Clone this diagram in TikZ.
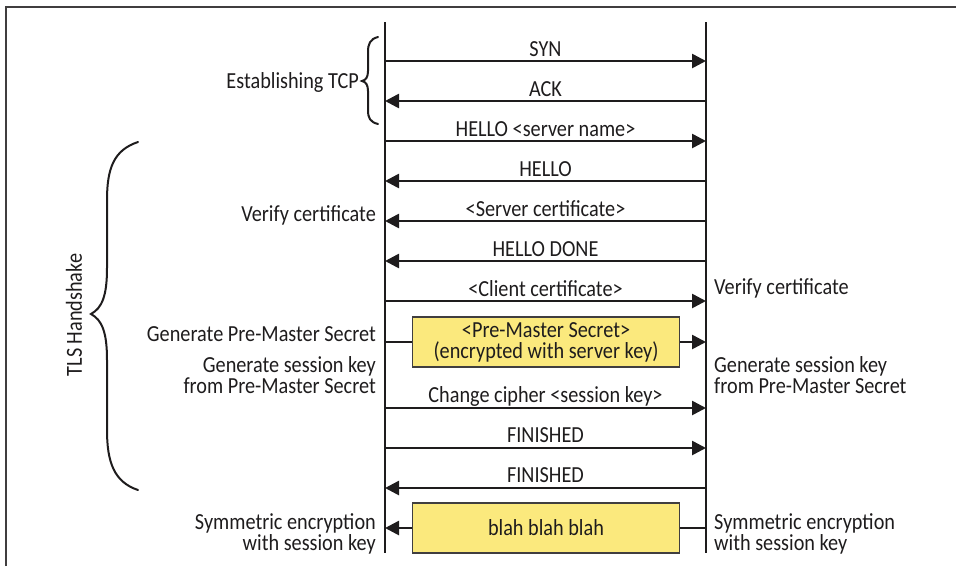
\documentclass[tikz,border=0pt]{standalone}
\usepackage{fontspec}
\setmainfont{Carlito}[FakeStretch=0.88]
\usetikzlibrary{arrows.meta}
\definecolor{boxyellow}{RGB}{251,233,125}
\definecolor{ink}{RGB}{30,28,29}
\begin{document}
\begin{tikzpicture}[x=1pt,y=-1pt,
  every node/.style={font=\fontsize{23}{21}\selectfont, text=ink, inner sep=0pt},
  life/.style={line width=2.6pt, draw=ink},
  msg/.style={line width=2.6pt, draw=ink, -{Triangle[length=14pt,width=14pt]}},
  plainline/.style={line width=2.6pt, draw=ink},
  yellowbox/.style={draw=ink!85, line width=1.3pt, fill=boxyellow, minimum width=267pt, minimum height=50pt, align=center},
  bracestyle/.style={line width=2pt, draw=ink, line cap=round},
  framestyle/.style={line width=1.6pt, draw=ink!85}]
\useasboundingbox (0,0) rectangle (956,566);
% frame
\draw[framestyle] (6,566) -- (6,7) -- (956,7);
% lifelines
\coordinate (Ltop) at (385,22);
\coordinate (Lbot) at (385,553);
\coordinate (Rtop) at (706,22);
\coordinate (Rbot) at (706,553);
\draw[life] (Ltop) -- (Lbot);
\draw[life] (Rtop) -- (Rbot);
% rows
\foreach \i/\y in {1/61,2/101,3/141,4/181,5/221,6/261,7/301,8/342,9/408,10/448,11/488,12/528}{
  \coordinate (L\i) at (385,\y);
  \coordinate (R\i) at (706,\y);
}
\draw[msg] (L1) -- (R1);
\node[anchor=base] (t1) at (545.5,56) {SYN};
\draw[msg] (R2) -- (L2);
\node[anchor=base] (t2) at (545.5,96) {ACK};
\draw[msg] (L3) -- (R3);
\node[anchor=base] (t3) at (545.5,136) {HELLO <server name>};
\draw[msg] (R4) -- (L4);
\node[anchor=base] (t4) at (545.5,176) {HELLO};
\draw[msg] (R5) -- (L5);
\node[anchor=base] (t5) at (545.5,216) {<Server certificate>};
\draw[msg] (R6) -- (L6);
\node[anchor=base] (t6) at (545.5,256) {HELLO DONE};
\draw[msg] (L7) -- (R7);
\node[anchor=base] (t7) at (545.5,296) {<Client certificate>};
% pre-master box
\node[yellowbox] (pm) at (546,342) {<Pre-Master Secret>\\(encrypted with server key)};
\draw[plainline] (L8) -- (pm.west);
\draw[msg] (pm.east) -- (R8);
\draw[msg] (L9) -- (R9);
\node[anchor=base] (t9) at (545.5,402) {Change cipher <session key>};
\draw[msg] (L10) -- (R10);
\node[anchor=base] (t10) at (545.5,442) {FINISHED};
\draw[msg] (R11) -- (L11);
\node[anchor=base] (t11) at (545.5,482) {FINISHED};
% blah box
\node[yellowbox] (bb) at (546,528) {blah blah blah};
\draw[plainline] (R12) -- (bb.east);
\draw[msg] (bb.west) -- (L12);
% left labels
\node[anchor=base east] (estab) at (359,88) {Establishing TCP};
\node[anchor=base east] (vc1) at (376,221) {Verify certificate};
\node[anchor=base east] (gpms) at (376,341) {Generate Pre-Master Secret};
\node[anchor=base east, align=right] (gsk1) at (376,393) {Generate session key\\from Pre-Master Secret};
\node[anchor=base east, align=right] (sym1) at (376,550) {Symmetric encryption\\with session key};
% right labels
\node[anchor=base west] (vc2) at (714,294) {Verify certificate};
\node[anchor=base west, align=left] (gsk2) at (714,393) {Generate session key\\from Pre-Master Secret};
\node[anchor=base west, align=left] (sym2) at (714,550) {Symmetric encryption\\with session key};
\node[rotate=90] (tls) at (74,315) {TLS Handshake};
% braces
\draw[bracestyle] (378,37) .. controls (370,39) and (368,44) .. (368,52) -- (368,71)
  .. controls (368,77) and (366,80) .. (362,81) .. controls (366,82) and (368,85) .. (368,91)
  -- (368,110) .. controls (368,118) and (370,122) .. (378,124);
\draw[bracestyle] (138,142) .. controls (114,150) and (107,168) .. (107,200) -- (107,268)
  .. controls (107,296) and (102,308) .. (91,314) .. controls (102,320) and (107,332) .. (107,360)
  -- (107,430) .. controls (107,462) and (114,482) .. (138,490);
\end{tikzpicture}
\end{document}
